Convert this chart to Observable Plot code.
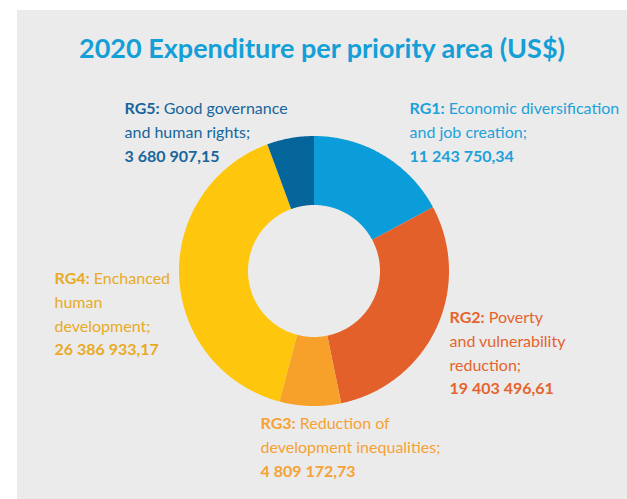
<!DOCTYPE html>
<html><head><meta charset="utf-8">
<script src="https://cdn.jsdelivr.net/npm/d3@7"></script>
<script src="https://cdn.jsdelivr.net/npm/@observablehq/plot@0.6"></script>
<style>
html,body{margin:0;padding:0;background:#fff;width:627px;height:499px;overflow:hidden;font-family:Lato,sans-serif}
#panel{position:absolute;left:17px;top:10px;width:610px;height:489px;background:#ebebeb}
#title{position:absolute;left:0;width:610px;top:24px;text-align:center;font-weight:700;font-size:27px;line-height:27px;color:#149fd7;margin:0;white-space:nowrap}
#chart{position:absolute;left:0;top:70px}
</style></head>
<body>
<div id="panel">
  <div id="title">2020 Expenditure per priority area (US$)</div>
  <div id="chart"></div>
</div>
<script>
// ---- data ----
const categories = ["RG1", "RG2", "RG3", "RG4", "RG5"];
const descriptions = [
  "Economic diversification\nand job creation;",
  "Poverty\nand vulnerability\nreduction;",
  "Reduction of\ndevelopment inequalities;",
  "Enchanced\nhuman\ndevelopment;",
  "Good governance\nand human rights;"
];
const values = [11243750.34, 19403496.61, 4809172.73, 26386933.17, 3680907.15];
const valueLabels = ["11 243 750,34", "19 403 496,61", "4 809 172,73", "26 386 933,17", "3 680 907,15"];

// ---- styles / layout ----
const sliceColors = ["#0b9dd9", "#e3602b", "#f7a02a", "#fec60d", "#04659b"];
const labelColors = ["#1da1da", "#e5642e", "#f5a234", "#e9aa26", "#17659c"];
const labelAnchors = [[95, 174], [135, -35], [-54, -141], [-260, 4], [-190, 174]];
const outerR = 135, innerR = 66;

// ring geometry (clockwise from top)
const total = d3.sum(values);
let acc = 0;
const ring = [];
categories.forEach((c, i) => {
  const a0 = acc / total * 2 * Math.PI; acc += values[i];
  const a1 = acc / total * 2 * Math.PI;
  const n = Math.max(2, Math.ceil((a1 - a0) / (Math.PI / 360)));
  for (let k = 0; k <= n; k++) ring.push({cat: c, t: a0 + (a1 - a0) * k / n});
});

const labelMarks = categories.map((c, i) => Plot.text([{
  x: labelAnchors[i][0], y: labelAnchors[i][1],
  text: `${c}: ${descriptions[i]}\n${valueLabels[i]}`
}], {
  x: "x", y: "y", text: "text", fill: labelColors[i],
  textAnchor: "start", lineAnchor: "top", lineHeight: 1.48,
  fontSize: 16, className: "lbl"
}));

const chart = Plot.plot({
  width: 610, height: 419, margin: 0,
  x: {domain: [-297, 313], axis: null},
  y: {domain: [-228, 191], axis: null},
  color: {domain: categories, range: sliceColors},
  style: {background: "transparent", fontFamily: "Lato, sans-serif", overflow: "visible"},
  marks: [
    Plot.area(ring, {
      x1: d => outerR * Math.sin(d.t), y1: d => outerR * Math.cos(d.t),
      x2: d => innerR * Math.sin(d.t), y2: d => innerR * Math.cos(d.t),
      z: "cat", fill: "cat", curve: "linear"
    }),
    ...labelMarks
  ]
});
document.getElementById("chart").appendChild(chart);

// bold prefix and value line
chart.querySelectorAll("g.lbl text").forEach(t => {
  const spans = t.querySelectorAll(":scope > tspan");
  const lines = spans.length ? Array.from(spans) : [t];
  const first = lines[0];
  const s = first.textContent;
  const idx = s.indexOf(":");
  first.textContent = "";
  const b = document.createElementNS("http://www.w3.org/2000/svg", "tspan");
  b.setAttribute("font-weight", "700");
  b.textContent = s.slice(0, idx + 1);
  first.appendChild(b);
  first.appendChild(document.createTextNode(s.slice(idx + 1)));
  lines[lines.length - 1].setAttribute("font-weight", "700");
});
</script>
</body></html>
